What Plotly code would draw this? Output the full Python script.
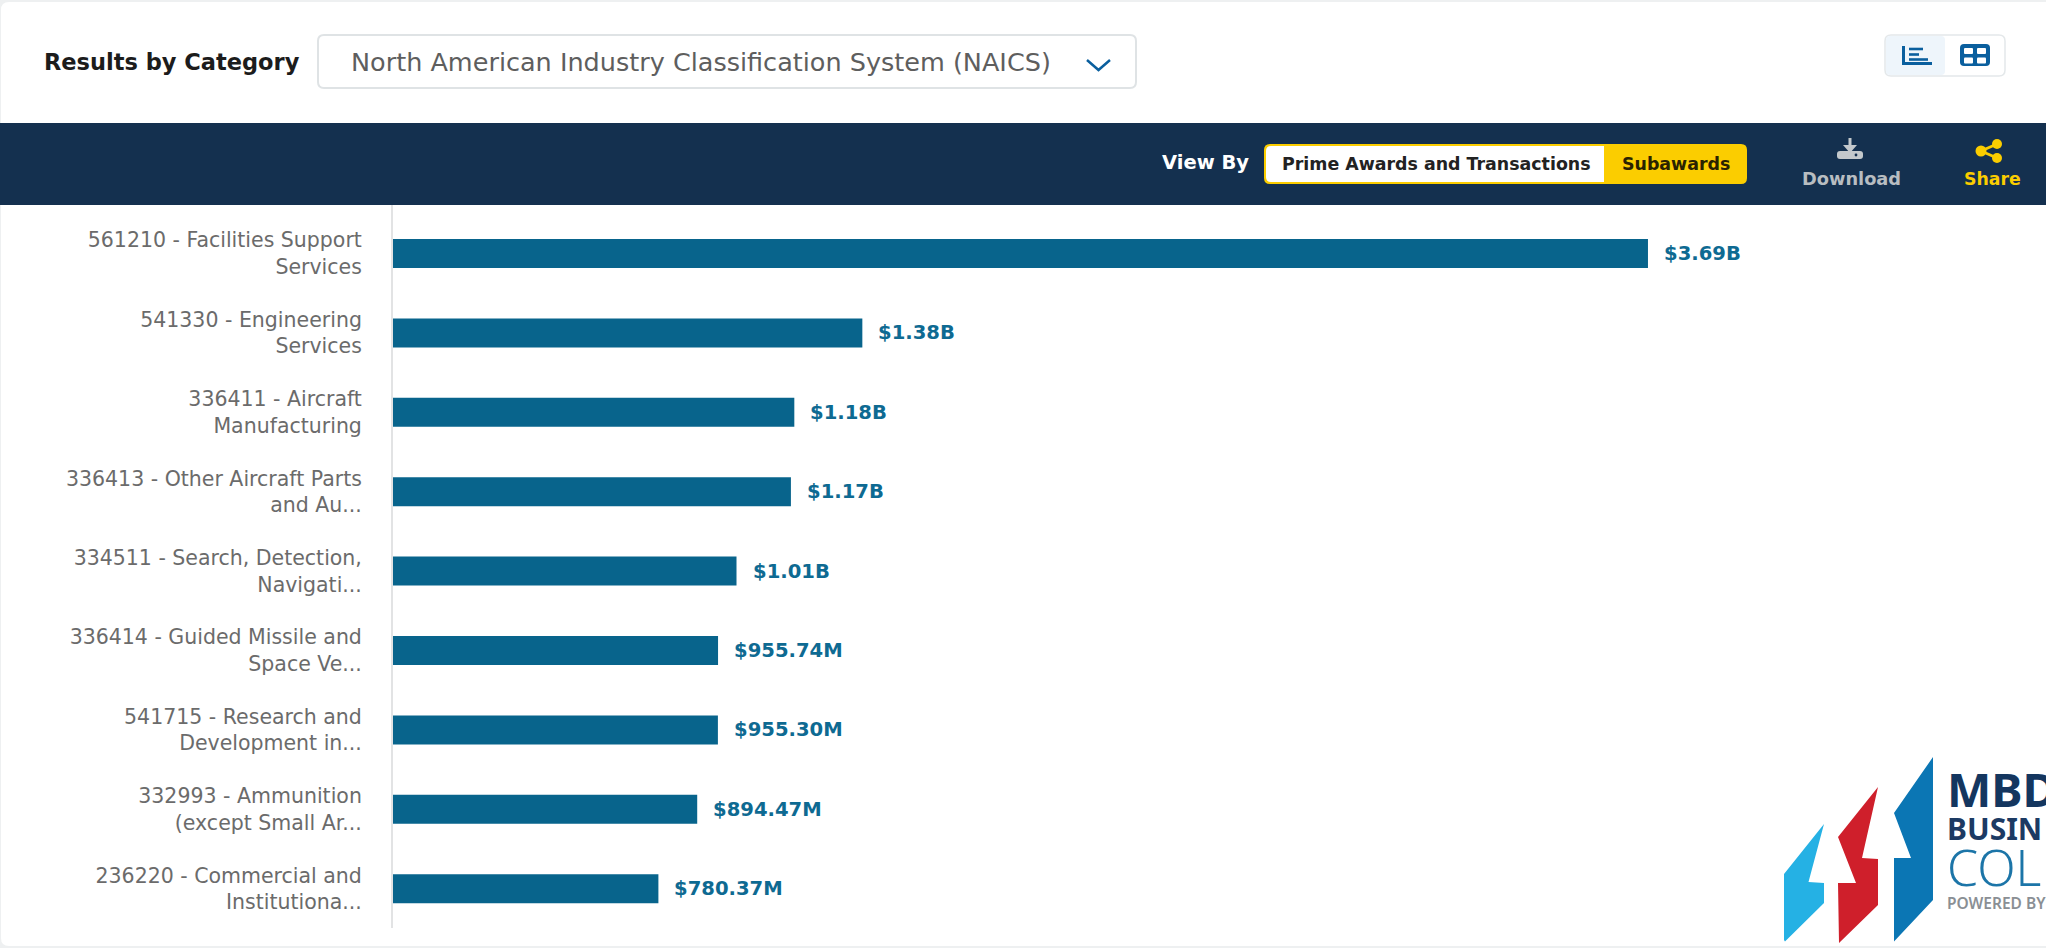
import plotly.graph_objects as go

W, H = 2046, 948

# NAICS categories and award totals
categories = [
    "561210 - Facilities Support<br>Services",
    "541330 - Engineering<br>Services",
    "336411 - Aircraft<br>Manufacturing",
    "336413 - Other Aircraft Parts<br>and Au...",
    "334511 - Search, Detection,<br>Navigati...",
    "336414 - Guided Missile and<br>Space Ve...",
    "541715 - Research and<br>Development in...",
    "332993 - Ammunition<br>(except Small Ar...",
    "236220 - Commercial and<br>Institutiona...",
]
amounts = [3.69e9, 1.38e9, 1.18e9, 1.17e9, 1.01e9, 955.74e6, 955.30e6, 894.47e6, 780.37e6]

NAVY = "#14304f"
BAR = "#08648c"
YELLOW = "#fbcd00"
BLUE = "#0a5f9e"
FONT = "DejaVu Sans"


def money(v):
    return f"${v / 1e9:.2f}B" if v >= 1e9 else f"${v / 1e6:.2f}M"


def px(x):
    return x / W


def py(y):
    return 1 - y / H


def poly(points):
    return "M" + " L".join(f"{px(x):.5f},{py(y):.5f}" for x, y in points) + " Z"


def rrect(x0, y0, x1, y1, r):
    """Rounded rectangle path in page pixels."""
    X, Y = px, py
    return (
        f"M{X(x0 + r)},{Y(y0)} L{X(x1 - r)},{Y(y0)} Q{X(x1)},{Y(y0)} {X(x1)},{Y(y0 + r)} "
        f"L{X(x1)},{Y(y1 - r)} Q{X(x1)},{Y(y1)} {X(x1 - r)},{Y(y1)} "
        f"L{X(x0 + r)},{Y(y1)} Q{X(x0)},{Y(y1)} {X(x0)},{Y(y1 - r)} "
        f"L{X(x0)},{Y(y0 + r)} Q{X(x0)},{Y(y0)} {X(x0 + r)},{Y(y0)} Z"
    )


shapes = []


def add_path(path, fill="rgba(0,0,0,0)", line=None, width=0, layer="below"):
    shapes.append(dict(type="path", xref="paper", yref="paper", path=path, fillcolor=fill,
                       line=dict(color=line or "rgba(0,0,0,0)", width=width), layer=layer))


def add_line(x0, y0, x1, y1, color, width, layer="below"):
    shapes.append(dict(type="line", xref="paper", yref="paper", x0=px(x0), y0=py(y0), x1=px(x1), y1=py(y1),
                       line=dict(color=color, width=width), layer=layer))


def add_dot(cx, cy, r, color):
    shapes.append(dict(type="circle", xref="paper", yref="paper", x0=px(cx - r), x1=px(cx + r),
                       y0=py(cy - r), y1=py(cy + r), fillcolor=color, line=dict(width=0), layer="below"))


annotations = []


def label(x, y, text, size, color, anchor="left", weight=400, family=FONT):
    annotations.append(dict(xref="paper", yref="paper", x=px(x), y=py(y), text=text, showarrow=False,
                            xanchor=anchor, yanchor="middle", borderpad=0,
                            font=dict(family=family, size=size, color=color, weight=weight)))


# Page card
add_path(rrect(1, 2, W + 8, 946, 8), fill="white")

# Category selector
label(43, 62, "Results by Category", 22.5, "#1c1c1c", weight=700)
add_path(rrect(318, 35, 1136, 88, 6), fill="white", line="#dfe3e5", width=2)
label(350, 62, "North American Industry Classification System (NAICS)", 25.5, "#5e5e5e")
add_path(f"M{px(1087)},{py(60)} L{px(1098.5)},{py(70)} L{px(1110)},{py(60)}", line=BLUE, width=2.5)

# Chart / table switch
add_path(rrect(1885, 35, 2005, 76, 6), fill="white", line="#e4e8ea", width=1.5)
add_path(rrect(1886, 36, 1945, 75, 4), fill="#eef5fb")
add_path(f"M{px(1903.5)},{py(46)} L{px(1903.5)},{py(63.5)} L{px(1932)},{py(63.5)}", line=BLUE, width=3)
for y0, x1 in ((49, 1923), (54.5, 1919), (59.5, 1928)):
    add_line(1909, y0, x1, y0, BLUE, 2.6)
add_path(rrect(1960, 44, 1990, 66, 4), fill=BLUE)
for x0, y0 in ((1964, 48), (1977, 48), (1964, 57.5), (1977, 57.5)):
    add_path(rrect(x0, y0, x0 + 9, y0 + 6, 1), fill="white")

# Dark toolbar
add_path(poly([(0, 123), (W, 123), (W, 205), (0, 205)]), fill=NAVY)
label(1161, 163, "View By", 19.5, "white", weight=700)
add_path(rrect(1264, 144, 1747, 184, 6), fill=YELLOW)
add_path(rrect(1266, 146, 1604, 182, 5), fill="white")
add_path(poly([(1590, 146), (1604, 146), (1604, 182), (1590, 182)]), fill="white")
label(1281, 164, "Prime Awards and Transactions", 17.4, "#222222", weight=700)
label(1621, 164, "Subawards", 17.4, "#2a2200", weight=700)

# Download action
GREY = "#c3c8cc"
add_line(1850, 138, 1850, 151, GREY, 3)
add_path(poly([(1843, 145), (1857, 145), (1850, 153)]), fill=GREY)
add_path(rrect(1837, 151, 1863, 159, 3), fill=GREY)
add_dot(1856, 155, 1.4, NAVY)
label(1801, 179, "Download", 17.8, "#b8bdc1", weight=700)

# Share action
add_line(1981, 151, 1997, 144, YELLOW, 3)
add_line(1981, 151, 1997, 158, YELLOW, 3)
add_dot(1981, 151, 5.5, YELLOW)
add_dot(1997, 144, 5, YELLOW)
add_dot(1997, 158, 5, YELLOW)
label(1963, 179, "Share", 17.3, YELLOW, weight=700)

# Brand mark
add_path(poly([(1784, 874), (1824, 824), (1808.5, 882), (1824, 883), (1824, 903), (1785, 941.5), (1784, 940)]),
         fill="#25b1e4")
add_path(poly([(1838, 837), (1878, 787), (1862, 858), (1878, 859), (1878, 905), (1839, 943), (1838, 883),
               (1856, 883)]), fill="#cf1f2b")
add_path(poly([(1894, 813), (1933, 757), (1933, 900), (1894, 941.5), (1894, 858), (1911, 858)]), fill="#0b76b4")
label(1946, 789, "MBD", 47, "#14365f", weight=700, family="Noto Sans")
label(1946, 828, "BUSIN", 30, "#1c3a63", weight=700, family="Noto Sans")
label(1946, 867, "COL", 50, "#1c75a8", weight=300, family="Noto Sans")
label(1946, 903, "POWERED BY", 15.5, "#8a8f94", weight=600, family="Noto Sans")

# Value labels sit just past each bar end
for cat, val in zip(categories, amounts):
    annotations.append(dict(x=val, y=cat, xref="x", yref="y", text=money(val), showarrow=False,
                            xanchor="left", yanchor="middle", xshift=14,
                            font=dict(family=FONT, size=19.6, color="#0e6a92", weight=700)))

fig = go.Figure(go.Bar(x=amounts, y=categories, orientation="h", marker=dict(color=BAR, line=dict(width=0)),
                       width=0.365, hoverinfo="x+y"))

fig.update_layout(
    width=W, height=H, autosize=False,
    margin=dict(l=0, r=0, t=0, b=0),
    paper_bgcolor="#eef0f1",
    plot_bgcolor="rgba(0,0,0,0)",
    showlegend=False,
    shapes=shapes,
    annotations=annotations,
    xaxis=dict(domain=[393 / W, 1], range=[0, (W - 393) / 340.1 * 1e9], visible=False),
    yaxis=dict(
        domain=[py(928.4), py(205)],
        type="category",
        categoryorder="array",
        categoryarray=categories,
        range=[8.5, -0.611],
        showgrid=False,
        zeroline=False,
        showline=True,
        linecolor="#e2e3e4",
        linewidth=2,
        ticks="",
        ticklabelstandoff=25,
        tickfont=dict(family=FONT, size=20.5, color="#6b6b6b"),
    ),
)

fig.write_html("out.html", config={"displayModeBar": False})
